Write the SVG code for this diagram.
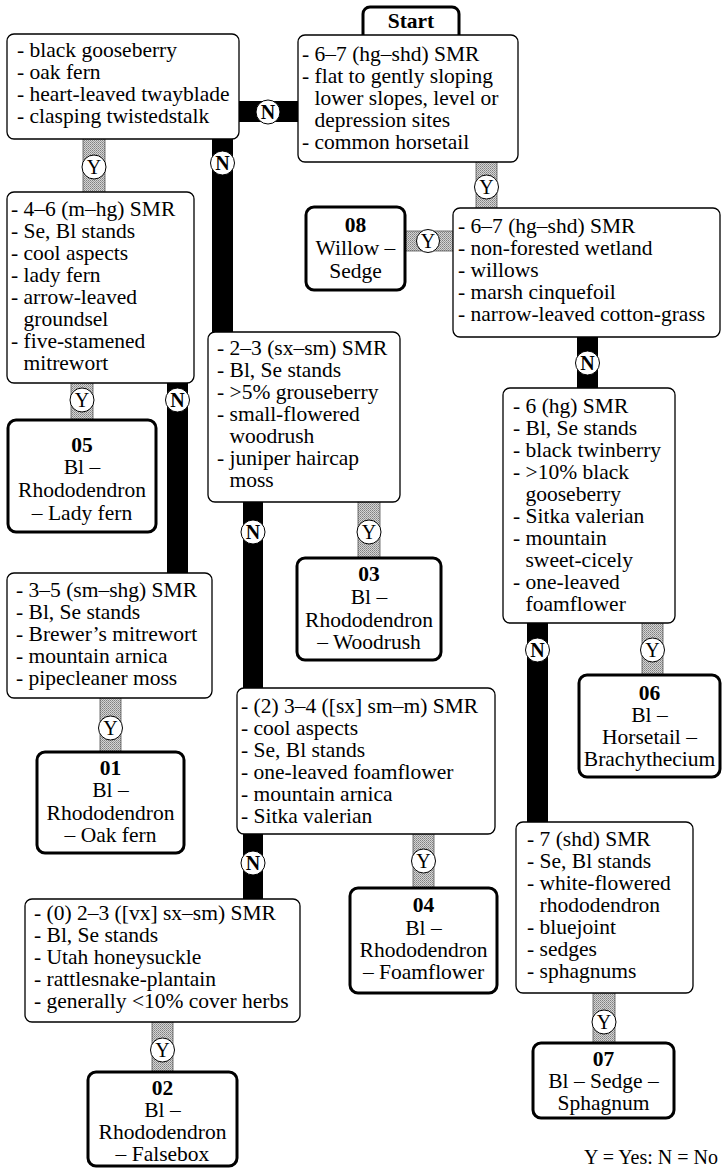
<svg xmlns="http://www.w3.org/2000/svg" width="722" height="1168" viewBox="0 0 722 1168" font-family="'Liberation Serif', 'Times New Roman', 'DejaVu Serif', serif">
<defs>
<pattern id="ht" width="2" height="2" patternUnits="userSpaceOnUse">
<rect width="2" height="2" fill="#d4d4d4"/>
<rect width="1" height="1" fill="#808080"/>
<rect x="1" y="1" width="1" height="1" fill="#9a9a9a"/>
</pattern>
<style>
.dec{fill:#fff;stroke:#000;stroke-width:1.3}
.term{fill:#fff;stroke:#000;stroke-width:3}
.t{font-size:21.5px;fill:#000}
.c{text-anchor:middle}
.b{font-weight:bold}
.nbar{fill:#000}
.ybar{fill:url(#ht);stroke:#555;stroke-width:0.8}
.disc{fill:#fff;stroke:#000;stroke-width:1}
.lbl{font-size:20px;text-anchor:middle;fill:#000}
</style>
</defs>
<rect width="722" height="1168" fill="#fff"/>

<g id="connectors">
<rect class="nbar" x="238" y="101" width="61" height="21"/>
<circle class="disc" cx="268" cy="112" r="12"/>
<text class="lbl b" x="268" y="119">N</text>
<rect class="ybar" x="476" y="161" width="21" height="48"/>
<circle class="disc" cx="486.5" cy="187" r="12"/>
<text class="lbl" x="486.5" y="194">Y</text>
<rect class="ybar" x="404" y="231" width="50" height="20"/>
<circle class="disc" cx="428" cy="241" r="11.5"/>
<text class="lbl" x="428" y="248">Y</text>
<rect class="nbar" x="577" y="336" width="21" height="53"/>
<circle class="disc" cx="587.5" cy="363" r="12"/>
<text class="lbl b" x="587.5" y="370">N</text>
<rect class="ybar" x="83" y="138" width="22" height="55"/>
<circle class="disc" cx="94" cy="167" r="12"/>
<text class="lbl" x="94" y="174">Y</text>
<rect class="nbar" x="212" y="138" width="21" height="195"/>
<circle class="disc" cx="222.5" cy="163" r="12"/>
<text class="lbl b" x="222.5" y="170">N</text>
<rect class="ybar" x="71" y="382" width="22" height="39"/>
<circle class="disc" cx="82" cy="400" r="12"/>
<text class="lbl" x="82" y="407">Y</text>
<rect class="nbar" x="167" y="382" width="21" height="192"/>
<circle class="disc" cx="177.5" cy="400" r="12"/>
<text class="lbl b" x="177.5" y="407">N</text>
<rect class="ybar" x="100" y="697" width="21" height="56"/>
<circle class="disc" cx="110.5" cy="728" r="12"/>
<text class="lbl" x="110.5" y="735">Y</text>
<rect class="ybar" x="358" y="501" width="22" height="58"/>
<circle class="disc" cx="369" cy="532" r="12"/>
<text class="lbl" x="369" y="539">Y</text>
<rect class="nbar" x="243" y="501" width="20" height="190"/>
<circle class="disc" cx="253" cy="532" r="12"/>
<text class="lbl b" x="253" y="539">N</text>
<rect class="ybar" x="413" y="833" width="21" height="56"/>
<circle class="disc" cx="423.5" cy="861" r="12"/>
<text class="lbl" x="423.5" y="868">Y</text>
<rect class="nbar" x="243" y="833" width="20" height="67"/>
<circle class="disc" cx="253" cy="863" r="12"/>
<text class="lbl b" x="253" y="870">N</text>
<rect class="ybar" x="152" y="1021" width="21" height="52"/>
<circle class="disc" cx="162.5" cy="1050" r="12"/>
<text class="lbl" x="162.5" y="1057">Y</text>
<rect class="nbar" x="527" y="622" width="21" height="201"/>
<circle class="disc" cx="537.5" cy="650" r="12"/>
<text class="lbl b" x="537.5" y="657">N</text>
<rect class="ybar" x="642" y="622" width="21" height="54"/>
<circle class="disc" cx="652.5" cy="650" r="12"/>
<text class="lbl" x="652.5" y="657">Y</text>
<rect class="ybar" x="593" y="992" width="22" height="52"/>
<circle class="disc" cx="604" cy="1022" r="12"/>
<text class="lbl" x="604" y="1029">Y</text>
</g>

<g id="start">
<rect class="term" x="363" y="7" width="96" height="40" rx="7"/>
<text class="t c b" x="411" y="28">Start</text>
</g>

<g id="q-a">
<rect class="dec" x="298" y="35" width="220" height="127" rx="7"/>
<text class="t" x="302" y="61">- 6–7 (hg–shd) SMR</text>
<text class="t" x="302" y="83">- flat to gently sloping</text>
<text class="t" x="314.5" y="105">lower slopes, level or</text>
<text class="t" x="314.5" y="127">depression sites</text>
<text class="t" x="302" y="149">- common horsetail</text>
</g>

<g id="q-b">
<rect class="dec" x="7" y="34" width="232" height="105" rx="7"/>
<text class="t" x="17" y="57">- black gooseberry</text>
<text class="t" x="17" y="79">- oak fern</text>
<text class="t" x="17" y="101">- heart-leaved twayblade</text>
<text class="t" x="17" y="123">- clasping twistedstalk</text>
</g>

<g id="q-c">
<rect class="dec" x="7" y="192" width="187" height="191" rx="7"/>
<text class="t" x="11" y="216">- 4–6 (m–hg) SMR</text>
<text class="t" x="11" y="238">- Se, Bl stands</text>
<text class="t" x="11" y="260">- cool aspects</text>
<text class="t" x="11" y="282">- lady fern</text>
<text class="t" x="11" y="304">- arrow-leaved</text>
<text class="t" x="23.5" y="326">groundsel</text>
<text class="t" x="11" y="348">- five-stamened</text>
<text class="t" x="23.5" y="370">mitrewort</text>
</g>

<g id="q-d">
<rect class="dec" x="208" y="332" width="192" height="170" rx="7"/>
<text class="t" x="217" y="355">- 2–3 (sx–sm) SMR</text>
<text class="t" x="217" y="377">- Bl, Se stands</text>
<text class="t" x="217" y="399">- &gt;5% grouseberry</text>
<text class="t" x="217" y="421">- small-flowered</text>
<text class="t" x="229.5" y="443">woodrush</text>
<text class="t" x="217" y="465">- juniper haircap</text>
<text class="t" x="229.5" y="487">moss</text>
</g>

<g id="q-e">
<rect class="dec" x="7" y="573" width="205" height="125" rx="7"/>
<text class="t" x="16" y="597">- 3–5 (sm–shg) SMR</text>
<text class="t" x="16" y="619">- Bl, Se stands</text>
<text class="t" x="16" y="641">- Brewer’s mitrewort</text>
<text class="t" x="16" y="663">- mountain arnica</text>
<text class="t" x="16" y="685">- pipecleaner moss</text>
</g>

<g id="q-f">
<rect class="dec" x="237" y="688" width="258" height="146" rx="7"/>
<text class="t" x="241" y="713">- (2) 3–4 ([sx] sm–m) SMR</text>
<text class="t" x="241" y="735">- cool aspects</text>
<text class="t" x="241" y="757">- Se, Bl stands</text>
<text class="t" x="241" y="779">- one-leaved foamflower</text>
<text class="t" x="241" y="801">- mountain arnica</text>
<text class="t" x="241" y="823">- Sitka valerian</text>
</g>

<g id="q-g">
<rect class="dec" x="25" y="899" width="275" height="123" rx="7"/>
<text class="t" x="34" y="920">- (0) 2–3 ([vx] sx–sm) SMR</text>
<text class="t" x="34" y="942">- Bl, Se stands</text>
<text class="t" x="34" y="964">- Utah honeysuckle</text>
<text class="t" x="34" y="986">- rattlesnake-plantain</text>
<text class="t" x="34" y="1008">- generally &lt;10% cover herbs</text>
</g>

<g id="q-h">
<rect class="dec" x="453" y="208" width="267" height="129" rx="7"/>
<text class="t" x="458" y="233">- 6–7 (hg–shd) SMR</text>
<text class="t" x="458" y="255">- non-forested wetland</text>
<text class="t" x="458" y="277">- willows</text>
<text class="t" x="458" y="299">- marsh cinquefoil</text>
<text class="t" x="458" y="321">- narrow-leaved cotton-grass</text>
</g>

<g id="q-i">
<rect class="dec" x="503" y="388" width="172" height="235" rx="7"/>
<text class="t" x="513" y="413">- 6 (hg) SMR</text>
<text class="t" x="513" y="435">- Bl, Se stands</text>
<text class="t" x="513" y="457">- black twinberry</text>
<text class="t" x="513" y="479">- &gt;10% black</text>
<text class="t" x="525.5" y="501">gooseberry</text>
<text class="t" x="513" y="523">- Sitka valerian</text>
<text class="t" x="513" y="545">- mountain</text>
<text class="t" x="525.5" y="567">sweet-cicely</text>
<text class="t" x="513" y="589">- one-leaved</text>
<text class="t" x="525.5" y="611">foamflower</text>
</g>

<g id="q-j">
<rect class="dec" x="516" y="822" width="177" height="171" rx="7"/>
<text class="t" x="527" y="846">- 7 (shd) SMR</text>
<text class="t" x="527" y="868">- Se, Bl stands</text>
<text class="t" x="527" y="890">- white-flowered</text>
<text class="t" x="539.5" y="912">rhododendron</text>
<text class="t" x="527" y="934">- bluejoint</text>
<text class="t" x="527" y="956">- sedges</text>
<text class="t" x="527" y="978">- sphagnums</text>
</g>

<g id="unit-08">
<rect class="term" x="306" y="207" width="99" height="83" rx="8"/>
<text class="t c b" x="355.5" y="232">08</text>
<text class="t c" x="355.5" y="255">Willow –</text>
<text class="t c" x="355.5" y="278">Sedge</text>
</g>

<g id="unit-05">
<rect class="term" x="8" y="420" width="148" height="112" rx="8"/>
<text class="t c b" x="82" y="452">05</text>
<text class="t c" x="82" y="474">Bl –</text>
<text class="t c" x="82" y="497">Rhododendron</text>
<text class="t c" x="82" y="520">– Lady fern</text>
</g>

<g id="unit-01">
<rect class="term" x="37" y="752" width="147" height="101" rx="8"/>
<text class="t c b" x="110.5" y="775">01</text>
<text class="t c" x="110.5" y="797">Bl –</text>
<text class="t c" x="110.5" y="820">Rhododendron</text>
<text class="t c" x="110.5" y="842">– Oak fern</text>
</g>

<g id="unit-03">
<rect class="term" x="297" y="558" width="144" height="102" rx="8"/>
<text class="t c b" x="369" y="581">03</text>
<text class="t c" x="369" y="604">Bl –</text>
<text class="t c" x="369" y="627">Rhododendron</text>
<text class="t c" x="369" y="649">– Woodrush</text>
</g>

<g id="unit-04">
<rect class="term" x="350" y="888" width="147" height="105" rx="8"/>
<text class="t c b" x="423.5" y="912">04</text>
<text class="t c" x="423.5" y="935">Bl –</text>
<text class="t c" x="423.5" y="957">Rhododendron</text>
<text class="t c" x="423.5" y="979">– Foamflower</text>
</g>

<g id="unit-02">
<rect class="term" x="88" y="1072" width="149" height="94" rx="8"/>
<text class="t c b" x="162.5" y="1095">02</text>
<text class="t c" x="162.5" y="1117">Bl –</text>
<text class="t c" x="162.5" y="1139">Rhododendron</text>
<text class="t c" x="162.5" y="1161">– Falsebox</text>
</g>

<g id="unit-06">
<rect class="term" x="579" y="675" width="141" height="102" rx="8"/>
<text class="t c b" x="649.5" y="700">06</text>
<text class="t c" x="649.5" y="722">Bl –</text>
<text class="t c" x="649.5" y="744">Horsetail –</text>
<text class="t c" x="649.5" y="766">Brachythecium</text>
</g>

<g id="unit-07">
<rect class="term" x="533" y="1043" width="141" height="75" rx="8"/>
<text class="t c b" x="603.5" y="1066">07</text>
<text class="t c" x="603.5" y="1088">Bl – Sedge –</text>
<text class="t c" x="603.5" y="1110">Sphagnum</text>
</g>

<g id="legend">
<text class="t" x="718" y="1164" text-anchor="end" style="font-size:20px">Y = Yes: N = No</text>
</g>
</svg>
